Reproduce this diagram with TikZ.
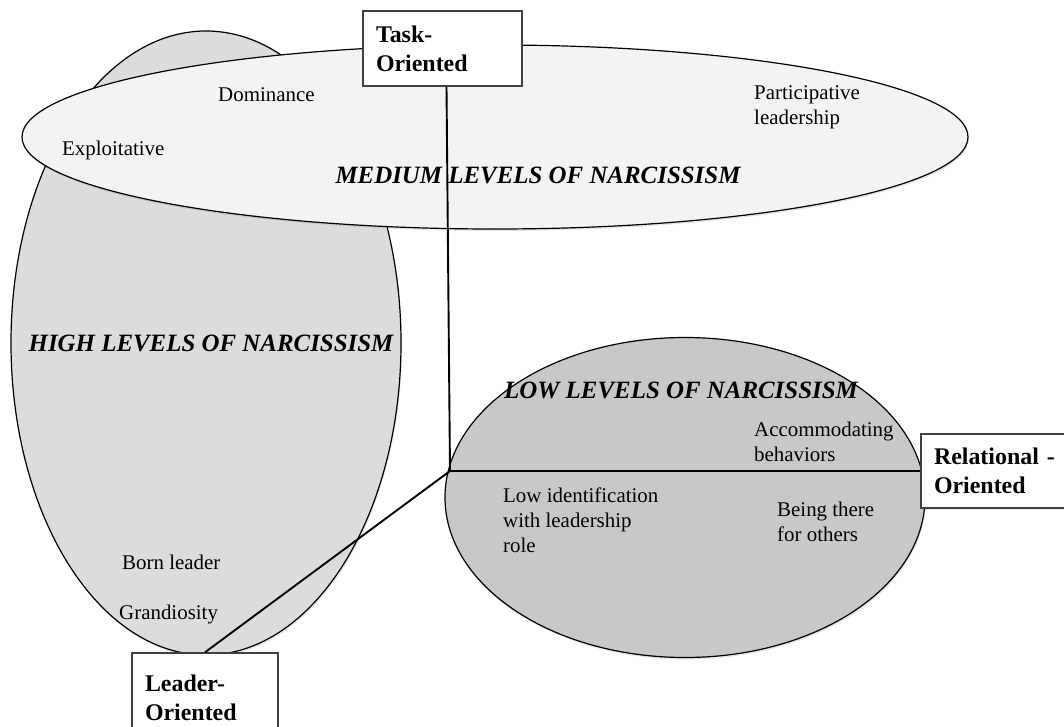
\documentclass[tikz,border=0pt]{standalone}
\usepackage{fontspec}
\setmainfont{Liberation Serif}
\usetikzlibrary{shapes.geometric,shadows}
\definecolor{mediumfill}{HTML}{F3F3F3}
\definecolor{highfill}{HTML}{DCDCDC}
\definecolor{lowfill}{HTML}{C8C8C8}
\tikzset{
  blob/.style={ellipse,draw=black,line width=1.2bp,inner sep=0pt,
    drop shadow={opacity=0.2,shadow xshift=1bp,shadow yshift=-2bp}},
  level/.style={font=\fontsize{25}{30}\selectfont\bfseries\itshape,inner sep=0pt},
  trait/.style={font=\fontsize{21}{25}\selectfont,align=left,inner sep=0pt,anchor=west},
  orient/.style={draw=black!75,line width=1.4bp,fill=white,align=left,
    inner xsep=13bp,inner ysep=0pt,font=\fontsize{24}{29}\selectfont\bfseries,
    drop shadow={opacity=0.2,shadow xshift=1bp,shadow yshift=-1.5bp}},
  link/.style={line width=1.9bp,black}
}
\begin{document}
\begin{tikzpicture}[x=1bp,y=-1bp]
  \useasboundingbox (0,0) rectangle (1064,727);
  \fill[white] (0,0) rectangle (1064,727);
  \clip (0,0) rectangle (1064,727);

  \node[blob,fill=highfill,minimum width=390bp,minimum height=624bp] (high) at (206,343) {};
  \node[blob,fill=mediumfill,minimum width=946bp,minimum height=184bp] (medium) at (495,137) {};
  \node[blob,fill=lowfill,minimum width=480bp,minimum height=320bp] (low) at (685,497.5) {};

  \node[level] (mediumlbl) at (538,175) {MEDIUM LEVELS OF NARCISSISM};
  \node[level] (highlbl) at (211,343) {HIGH LEVELS OF NARCISSISM};
  \node[level] (lowlbl) at (681,390) {LOW LEVELS OF NARCISSISM};

  \node[trait] (exploit) at (62,150) {Exploitative};
  \node[trait] (domin) at (218,95) {Dominance};
  \node[trait] (partic) at (754,107.5) {Participative\\leadership};
  \node[trait] (accom) at (754,442) {Accommodating\\behaviors};
  \node[trait] (lowid) at (503,520) {Low identification\\with leadership\\role};
  \node[trait] (being) at (777,522) {Being there\\for others};
  \node[trait] (born) at (122,562) {Born leader};
  \node[trait] (grand) at (119,614) {Grandiosity};

  \node[orient,text width=133bp,minimum height=75bp] (task) at (442.5,48.5) {Task-\\Oriented};
  \node[orient,text width=120bp,minimum height=90bp] (leader) at (205,698) {Leader-\\Oriented};
  \node[orient,text width=130bp,minimum height=74bp] (rel) at (999,471) {Relational -\\Oriented};

  \coordinate (hub) at (450,471);
  \draw[link] ([xshift=4bp]task.south) -- (hub);
  \draw[link] (hub) -- (rel.west);
  \draw[link] (hub) -- (leader.north);
\end{tikzpicture}
\end{document}
